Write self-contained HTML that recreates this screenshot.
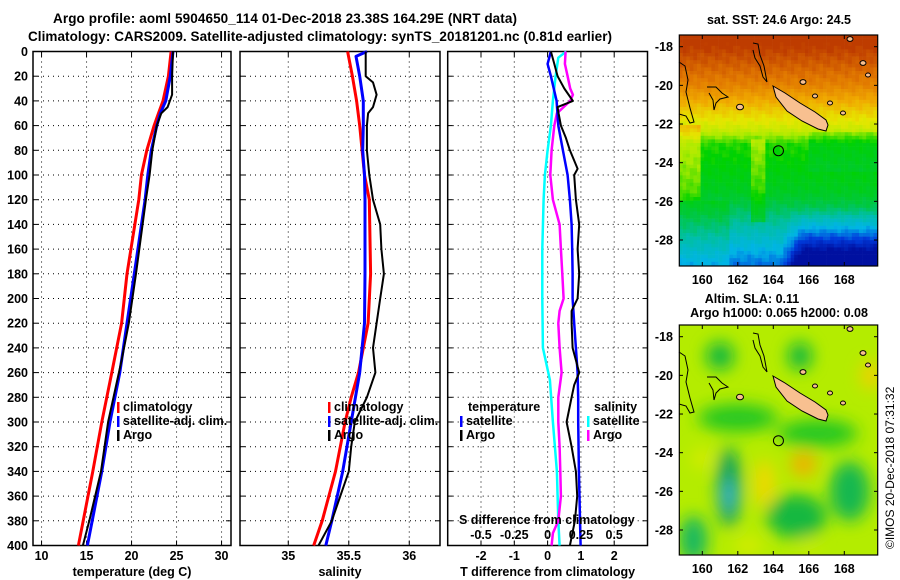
<!DOCTYPE html>
<html><head><meta charset="utf-8"><style>
html,body{margin:0;padding:0;background:#fff;}
svg{display:block;font-family:"Liberation Sans",Arial,sans-serif;font-weight:bold;}
</style></head><body>
<svg id="fig" width="900" height="580" viewBox="0 0 900 580" xmlns="http://www.w3.org/2000/svg">
<defs>
<filter id="blur2" x="-20%" y="-20%" width="140%" height="140%"><feGaussianBlur stdDeviation="8"/></filter>
<clipPath id="clipM1"><rect x="679" y="35" width="199" height="231"/></clipPath>
<clipPath id="clipM2"><rect x="679" y="325" width="199" height="230"/></clipPath>
</defs>
<text x="285" y="23" font-size="13.5" text-anchor="middle" textLength="464">Argo profile: aoml 5904650_114 01-Dec-2018 23.38S 164.29E (NRT data)</text>
<text x="320" y="41" font-size="13.5" text-anchor="middle" textLength="584">Climatology: CARS2009. Satellite-adjusted climatology: synTS_20181201.nc (0.81d earlier)</text>
<g id="plots"></g>
<g id="maps"></g>
<text transform="translate(894,549) rotate(-90)" font-size="12" font-weight="normal">©IMOS 20-Dec-2018 07:31:32</text>
</svg>
<script>
// ---------- data ----------
const depthsClim = [0,20,40,50,60,80,100,120,180,220,260,300,340,400];
const tempClim   = [24.4,24.1,23.5,23.0,22.5,21.7,21.1,20.8,19.5,18.9,17.8,16.7,15.7,14.1];
const tempSat    = [24.6,24.3,23.8,23.2,22.8,22.2,21.8,21.5,20.3,19.5,18.7,17.6,16.7,15.1];
const depthsArgoT = [0,20,35,45,50,60,80,100,120,180,220,250,280,300,340,380,400];
const tempArgo    = [24.6,24.5,24.5,24.0,23.3,22.8,22.3,22.0,21.6,20.5,19.7,18.9,18.0,17.4,16.6,15.3,14.6];

const depthsSal = [0,20,40,60,80,100,120,180,220,260,280,300,340,380,400];
const salClim   = [35.49,35.53,35.565,35.59,35.61,35.63,35.67,35.68,35.66,35.58,35.52,35.47,35.39,35.28,35.21];
const depthsSalSat = [0,4,20,40,60,80,100,120,180,220,260,300,340,380,400];
const salSat       = [35.65,35.56,35.59,35.62,35.62,35.615,35.63,35.634,35.634,35.63,35.59,35.52,35.45,35.36,35.31];
const depthsSalArgo = [0,20,25,35,45,50,60,80,100,120,140,160,180,200,220,240,260,280,300,320,340,360,380,400];
const salArgo       = [35.64,35.64,35.70,35.73,35.70,35.66,35.65,35.65,35.67,35.70,35.76,35.77,35.79,35.76,35.73,35.70,35.72,35.65,35.55,35.52,35.50,35.43,35.36,35.25];

const depthsDT = [0,10,20,40,60,80,100,120,140,160,180,200,220,240,260,280,300,340,400];
const dTsat    = [0.1,0.0,0.1,0.27,0.32,0.46,0.6,0.67,0.72,0.74,0.75,0.75,0.8,0.85,0.9,0.92,0.92,0.94,0.99];
const depthsDTargo = [0,10,20,30,40,45,50,60,70,80,95,100,120,140,160,180,200,210,220,240,260,270,280,300,320,340,360,380,400];
const dTargo       = [0.1,0.2,0.3,0.5,0.76,0.3,0.33,0.4,0.55,0.67,0.9,0.8,0.85,0.95,0.9,0.95,0.9,0.72,0.72,0.75,0.95,0.8,0.72,0.57,0.72,0.85,0.89,0.82,0.67];
const depthsDS = [0,5,20,40,60,80,100,120,160,200,240,266,300,340,380,400];
const dSsat    = [0.14,0.08,0.06,0.04,0.025,0.0,-0.02,-0.03,-0.04,-0.04,-0.035,0.017,0.04,0.07,0.08,0.09];
const depthsDSargo = [0,10,20,30,35,40,45,50,60,80,100,120,140,160,180,200,210,220,240,260,280,300,320,340,360,380,390,400];
const dSargo       = [0.135,0.13,0.15,0.17,0.19,0.17,0.12,0.07,0.05,0.03,0.02,0.04,0.09,0.1,0.11,0.12,0.09,0.08,0.09,0.105,0.08,0.08,0.09,0.095,0.1,0.08,0.04,0.03];

const depthTicks = [0,20,40,60,80,100,120,140,160,180,200,220,240,260,280,300,320,340,360,380,400];
const tTicks = [10,15,20,25,30];
const sTicks = [35,35.5,36];
const sTickLabels = ["35","35.5","36"];
const dtTicks = [-2,-1,0,1,2];
const dsTicks = [-0.5,-0.25,0,0.25,0.5];
const dsTickLabels = ["-0.5","-0.25","0","0.25","0.5"];

// ---------- helpers ----------
const NS="http://www.w3.org/2000/svg";
const plots=document.getElementById('plots');
function mk(tag,attrs,parent){const e=document.createElementNS(NS,tag);for(const k in attrs)e.setAttribute(k,attrs[k]);(parent||plots).appendChild(e);return e;}
const Y0=51.5, Y1=545.5;
function yScale(d){return Y0+(d/400)*(Y1-Y0);}
function makeX(x0,x1,d0,d1){return v=>x0+(v-d0)/(d1-d0)*(x1-x0);}

function panel(name,x0,x1,xs,ticks,labels,title,showY){
  const g=mk('g',{});
  
  
  depthTicks.forEach(d=>{const y=yScale(d);
    if(d>0&&d<400){const l=mk('line',{x1:x0,x2:x1,y1:y,y2:y,stroke:'#000','stroke-width':1,'stroke-dasharray':'1,4'},g);
      }
    mk('line',{x1:x0,x2:x0+5,y1:y,y2:y,stroke:'#000'},g);
    mk('line',{x1:x1-5,x2:x1,y1:y,y2:y,stroke:'#000'},g);
    if(showY){const t=mk('text',{x:28,y:y+4.5,'font-size':12.5,'text-anchor':'end'},g);t.textContent=d;
      }
  });
  ticks.forEach((v,i)=>{const x=xs(v);
    const l=mk('line',{x1:x,x2:x,y1:Y0,y2:Y1,stroke:'#000','stroke-width':1,'stroke-dasharray':'1,4'},g);
    
    mk('line',{x1:x,x2:x,y1:Y0,y2:Y0+5,stroke:'#000'},g);
    mk('line',{x1:x,x2:x,y1:Y1-5,y2:Y1,stroke:'#000'},g);
    const t=mk('text',{x:x,y:560,'font-size':12.5,'text-anchor':'middle'},g);t.textContent=labels[i];
    
  });
  const r=mk('rect',{x:x0,y:Y0,width:x1-x0,height:Y1-Y0,fill:'none',stroke:'#000','stroke-width':1.5},g);
  
  const t=mk('text',{x:(x0+x1)/2,y:576,'font-size':12.5,'text-anchor':'middle'},g);t.textContent=title;
  
  return g;
}
function series(g,name,depths,vals,xs,color,w){
  const pts=depths.map((d,i)=>xs(vals[i]).toFixed(1)+','+yScale(d).toFixed(1)).join(' ');
  const p=mk('polyline',{points:pts,fill:'none',stroke:color,'stroke-width':w,'stroke-linejoin':'round'},g);
  
  
}
function legendRow(g,name,x,y,color,label){
  const b=mk('rect',{x:x,y:y-9,width:2.5,height:11,fill:color},g);
  
  const t=mk('text',{x:x+6,y:y,'font-size':12.5},g);t.textContent=label;
  
}

// panel 1
const xT=makeX(33,231,9.05,31.05);
const g1=panel('temperature-panel',33,231,xT,tTicks,tTicks.map(String),'temperature (deg C)',true);
series(g1,'temp-climatology-line',depthsClim,tempClim,xT,'#f00',3);
series(g1,'temp-satellite-line',depthsClim,tempSat,xT,'#00f',3);
series(g1,'temp-argo-line',depthsArgoT,tempArgo,xT,'#000',2);
legendRow(g1,'legend-climatology',117,411,'#f00','climatology');
legendRow(g1,'legend-satellite-adj',117,425,'#00f','satellite-adj. clim.');
legendRow(g1,'legend-argo',117,439,'#000','Argo');

// panel 2
const xS=makeX(240,440,34.601,36.254);
const g2=panel('salinity-panel',240,440,xS,sTicks,sTickLabels,'salinity',false);
series(g2,'sal-climatology-line',depthsSal,salClim,xS,'#f00',3);
series(g2,'sal-satellite-line',depthsSalSat,salSat,xS,'#00f',3);
series(g2,'sal-argo-line',depthsSalArgo,salArgo,xS,'#000',2);
legendRow(g2,'legend-climatology-2',328,411,'#f00','climatology');
legendRow(g2,'legend-satellite-adj-2',328,425,'#00f','satellite-adj. clim.');
legendRow(g2,'legend-argo-2',328,439,'#000','Argo');

// panel 3
const xD=makeX(447.7,647.5,-3,3);
const xDS=v=>xD(v*4);
const g3=panel('difference-panel',447.7,647.5,xD,dtTicks,dtTicks.map(String),'T difference from climatology',false);
series(g3,'dS-satellite-line',depthsDS,dSsat,xDS,'#0ff',2.5);
series(g3,'dS-argo-line',depthsDSargo,dSargo,xDS,'#f0f',2.5);
series(g3,'dT-satellite-line',depthsDT,dTsat,xD,'#00f',2.5);
series(g3,'dT-argo-line',depthsDTargo,dTargo,xD,'#000',2);
{const t=mk('text',{x:468,y:411,'font-size':12.5},g3);t.textContent='temperature';
 const t2=mk('text',{x:594,y:411,'font-size':12.5},g3);t2.textContent='salinity';}
legendRow(g3,'legend-t-satellite',460,425,'#00f','satellite');
legendRow(g3,'legend-t-argo',460,439,'#000','Argo');
legendRow(g3,'legend-s-satellite',587,425,'#0ff','satellite');
legendRow(g3,'legend-s-argo',587,439,'#f0f','Argo');
{const t=mk('text',{x:459,y:524,'font-size':12.5},g3);t.textContent='S difference from climatology';
 dsTicks.forEach((v,i)=>{const tt=mk('text',{x:xDS(v),y:539,'font-size':12.5,'text-anchor':'middle'},g3);tt.textContent=dsTickLabels[i];
   });}

// ---------- maps ----------
const maps=document.getElementById('maps');
function lonX(lon){return 702.3+(lon-160)*17.75;}
function latY(lat,off){return off+(-18-lat)*19.33;}
const stops=[[0,[0,16,160]],[0.1,[0,60,220]],[0.2,[0,180,230]],[0.3,[0,190,170]],[0.4,[0,200,60]],[0.5,[0,210,0]],[0.6,[170,235,0]],[0.7,[230,230,0]],[0.8,[240,170,0]],[0.9,[225,120,0]],[1,[190,60,0]]];
function cmap(v){v=Math.max(0,Math.min(1,v));for(let i=1;i<stops.length;i++){if(v<=stops[i][0]){const a=stops[i-1],b=stops[i],t=(v-a[0])/(b[0]-a[0]);
  return 'rgb('+a[1].map((c,k)=>Math.round(c+(b[1][k]-c)*t)).join(',')+')';}}return 'rgb(190,60,0)';}
function sstField(lon,lat){
  let v;
  if(lat>-20)v=1-(-18-lat)*0.06;
  else if(lat>-22.3)v=0.88-(-20-lat)*0.1;
  else if(lat>-23)v=0.65-(-22.3-lat)*0.18;
  else v=0.52-(-23-lat)*0.03;
  if(lat<-25.5) v-=(-25.5-lat)*0.05;
  if(lon>164.5&&lat<-26.3) v-=Math.min(1,(lon-164.5)/1.2)*(-26.3-lat)*0.09;
  if(lon<161.5&&lat<-26) v+=0.05;
  if(lon>162.8&&lon<163.6&&lat<-22.8&&lat>-27) v+=0.08;
  if(lon<160&&lat>-26&&lat<-22) v+=0.1;
  if(lon>166&&lat>-24.5&&lat<-22.5) v-=0.04;
  const n=Math.sin(lon*7.3+lat*3.1)*Math.cos(lon*2.7-lat*5.9);
  return v+n*0.02;
}
{
  const g=document.createElementNS(NS,'g');g.setAttribute('clip-path','url(#clipM1)');maps.appendChild(g);
  
  const cell=3.6;
  for(let x=679;x<878;x+=cell){for(let y=35;y<266;y+=cell){
    const lon=160+(x+cell/2-702.3)/17.75, lat=-18-(y+cell/2-46.7)/19.33;
    mk('rect',{x:x.toFixed(1),y:y.toFixed(1),width:cell+0.3,height:cell+0.3,fill:cmap(sstField(lon,lat))},g);
  }}
}
{
  const g=document.createElementNS(NS,'g');g.setAttribute('clip-path','url(#clipM2)');maps.appendChild(g);
  
  mk('rect',{x:679,y:325,width:199,height:230,fill:'#b4ec00'},g);
  const fg=document.createElementNS(NS,'g');fg.setAttribute('filter','url(#blur2)');g.appendChild(fg);
  const blobs=[[161,-19,14,14,'#10b840'],[165.5,-19,12,14,'#10b840'],[162,-22.2,40,14,'#28c820'],[166.5,-23,40,14,'#28c820'],[161.5,-25.8,12,40,'#10a060'],[161.5,-26.2,7,16,'#30b0d0'],
    [165.3,-27.3,30,22,'#18b840'],[168.3,-26,20,30,'#18b850'],[159.5,-28.5,14,24,'#18b860'],[163.5,-25.6,10,24,'#f0d800'],[165.7,-24.6,13,12,'#f0b000'],[169.5,-20,10,14,'#f0d000'],
    [160,-24.3,10,10,'#d8ec00'],[162.6,-28.8,14,8,'#d8ec00'],[166,-28.8,10,8,'#c8ec00']];
  blobs.forEach(b=>{mk('ellipse',{cx:lonX(b[0]),cy:latY(b[1],336.7),rx:b[2],ry:b[3],fill:b[4]},fg);});
}
function island(off,name){
  const pts=[[773,86],[785,93],[800,103],[815,112],[826,120],[828,125],[826,131],[818,129],[802,121],[787,111],[776,97]];
  const p=mk('polygon',{points:pts.map(q=>q[0]+','+(q[1]+off)).join(' '),fill:'#f8c090',stroke:'#000','stroke-width':1},maps);
  
  const c1=[[679,62],[685,66],[688,80],[686,92],[690,108],[694,122],[690,123],[686,116],[679,114]];
  const c2=[[753,43],[758,44],[760,55],[764,66],[767,82],[763,77],[760,66],[755,58],[753,50]];
  const c3=[[707,87],[716,87],[722,93],[728,97],[720,99],[716,103],[714,110],[713,100],[709,93]];
  [c1,c2,c3].forEach(c=>{const q=mk('polyline',{points:c.map(k=>k[0]+','+(k[1]+off)).join(' '),fill:'none',stroke:'#000','stroke-width':1},maps);
    });
  [[740,107,3.5],[803,82,3],[815,96,2.5],[830,103,2.5],[843,113,2.5],[850,39,3],[863,63,3],[868,75,2.5]].forEach(s=>{
    const e=mk('ellipse',{cx:s[0],cy:s[1]+off,rx:s[2],ry:s[2]*0.8,fill:'#f8c090',stroke:'#000','stroke-width':1},maps);
    });
  const c=mk('circle',{cx:lonX(164.29),cy:latY(-23.38,off===0?46.7:336.7),r:5,fill:'none',stroke:'#000','stroke-width':1},maps);
  
}
island(0,'new-caledonia-map1');
island(290,'new-caledonia-map2');
function mapFrame(top,bottom,yoff,name){
  const g=mk('g',{},maps);
  
  mk('rect',{x:679.3,y:top,width:198.4,height:bottom-top,fill:'none',stroke:'#000','stroke-width':1.2},g);
  [-18,-20,-22,-24,-26,-28].forEach(l=>{const y=latY(l,yoff);
    mk('line',{x1:679,x2:683,y1:y,y2:y,stroke:'#000'},g);mk('line',{x1:874,x2:878,y1:y,y2:y,stroke:'#000'},g);
    const t=mk('text',{x:673,y:y+4.5,'font-size':12.5,'text-anchor':'end'},g);t.textContent=l;
    });
  [160,162,164,166,168].forEach(lo=>{const x=lonX(lo);
    mk('line',{x1:x,x2:x,y1:top,y2:top+4,stroke:'#000'},g);mk('line',{x1:x,x2:x,y1:bottom-4,y2:bottom,stroke:'#000'},g);
    const t=mk('text',{x:x,y:bottom+18,'font-size':12.5,'text-anchor':'middle'},g);t.textContent=lo;
    });
}
mapFrame(35,266,46.7,'sst-map-frame');
mapFrame(325,555,336.7,'sla-map-frame');
{const t=mk('text',{x:779,y:24,'font-size':12.5,'text-anchor':'middle'},maps);t.textContent='sat. SST: 24.6 Argo: 24.5';
 const t2=mk('text',{x:752,y:303,'font-size':12.5,'text-anchor':'middle'},maps);t2.textContent='Altim. SLA: 0.11';
 const t3=mk('text',{x:779,y:317,'font-size':12.5,'text-anchor':'middle'},maps);t3.textContent='Argo h1000: 0.065 h2000: 0.08';}
</script>
</body></html>
